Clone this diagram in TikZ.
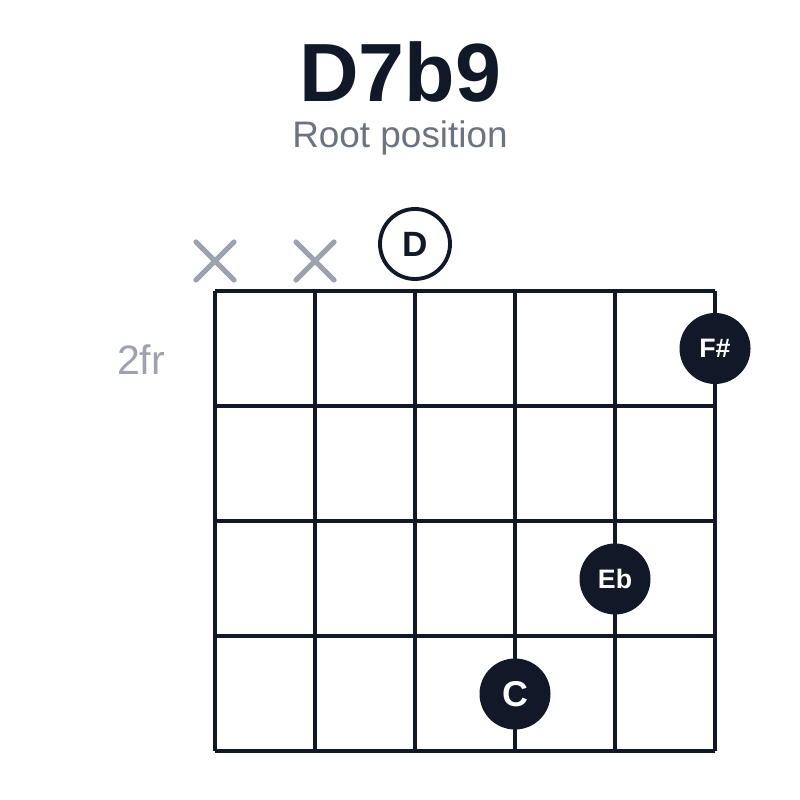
\documentclass[tikz,border=0pt]{standalone}
\usepackage{fontspec}
\setmainfont{Liberation Sans}
\usetikzlibrary{shapes.misc}
\definecolor{ink}{HTML}{111827}
\definecolor{subgray}{HTML}{6B7280}
\definecolor{mutegray}{HTML}{9CA3AF}

\begin{document}
\begin{tikzpicture}[
    fretline/.style={line width=1.05pt, color=ink},
    mutemark/.style={cross out, draw=mutegray, line width=1.45pt, line cap=round, minimum size=3.3mm, inner sep=0pt},
    openstring/.style={circle, draw=ink, line width=1.1pt, minimum size=7mm, inner sep=0pt, text=ink, font=\bfseries\fontsize{10}{12}\selectfont},
    finger/.style={circle, fill=ink, minimum size=7.1mm, inner sep=0pt, text=white, font=\bfseries\fontsize{7.6}{9}\selectfont}
]
    \useasboundingbox (0,0) rectangle (8,8);
    % title
    \node[anchor=base, text=ink, font=\bfseries\fontsize{23.5}{28}\selectfont] (title) at (4,6.98) {D7b9};
    \node[anchor=base, text=subgray, font=\fontsize{10.5}{13}\selectfont] (subtitle) at (4,6.52) {Root position};
    % strings and frets
    \foreach \x in {2.15,3.15,4.15,5.15,6.15,7.15}
        \draw[fretline] (\x,0.49) -- (\x,5.09);
    \foreach \y in {5.09,3.94,2.79,1.64,0.49}
        \draw[fretline] (2.15,\y) -- (7.15,\y);
    \node[text=mutegray, font=\fontsize{11.7}{14}\selectfont] (position) at (1.41,4.40) {2fr};
    % muted and open strings
    \node[mutemark] (muteE) at (2.15,5.39) {};
    \node[mutemark] (muteA) at (3.15,5.39) {};
    \node[openstring] (openD) at (4.15,5.56) {D};
    % fingered notes
    \node[finger] (noteFs) at (7.15,4.515) {F\#};
    \node[finger] (noteEb) at (6.15,2.21) {Eb};
    \node[finger, font=\bfseries\fontsize{10.2}{12}\selectfont] (noteC) at (5.15,1.06) {C};
\end{tikzpicture}
\end{document}
